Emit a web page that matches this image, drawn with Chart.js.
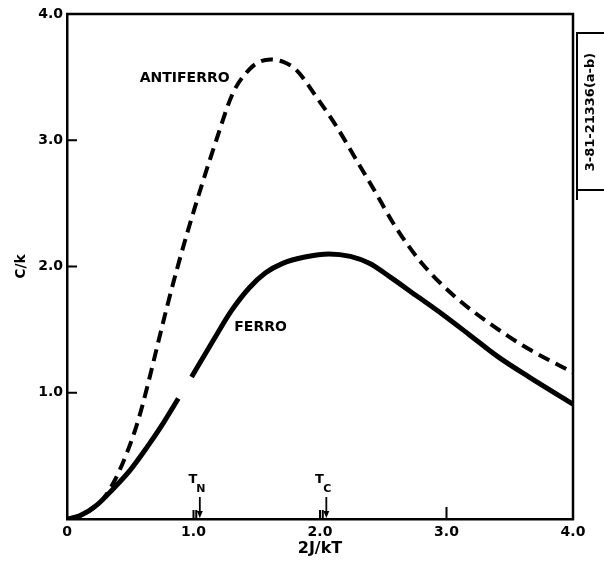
<!DOCTYPE html>
<html>
<head>
<meta charset="utf-8">
<script src="https://cdn.jsdelivr.net/npm/chart.js@4/dist/chart.umd.min.js"></script>
<style>
  html, body { margin:0; padding:0; background:#fff; }
  #wrap { width:604px; height:562px; }
</style>
</head>
<body>
<div id="wrap"><canvas id="heatChart" width="604" height="562"></canvas></div>
<script>
// ── Data (x = 2J/kT, y = C/k) ─────────────────────────────────
const antiX = [0, 0.10, 0.26, 0.366, 0.472, 0.564, 0.643, 0.709, 0.788, 0.867, 0.946, 1.07, 1.18, 1.31, 1.44, 1.53, 1.61, 1.71, 1.81, 1.97, 2.13, 2.29, 2.42, 2.60, 2.81, 3.08, 3.34, 3.61, 4.0];
const antiY = [0, 0.025, 0.13, 0.285, 0.52, 0.785, 1.08, 1.35, 1.67, 1.97, 2.25, 2.66, 3.00, 3.37, 3.56, 3.625, 3.64, 3.62, 3.56, 3.345, 3.11, 2.84, 2.62, 2.31, 2.02, 1.75, 1.55, 1.37, 1.16];

// null = the break drawn in the solid curve near 2J/kT ≈ 0.93
const ferroX = [0, 0.10, 0.235, 0.366, 0.498, 0.63, 0.761, 0.88, 0.93, 0.985, 1.183, 1.30, 1.44, 1.57, 1.705, 1.88, 2.07, 2.24, 2.39, 2.55, 2.76, 2.97, 3.18, 3.40, 3.66, 4.0];
const ferroY = [0, 0.025, 0.11, 0.24, 0.385, 0.565, 0.76, 0.955, null, 1.125, 1.46, 1.65, 1.83, 1.95, 2.025, 2.075, 2.10, 2.08, 2.025, 1.92, 1.77, 1.62, 1.46, 1.29, 1.12, 0.91];

const xTickLabels = ['0', '1.0', '2.0', '3.0', '4.0'];
const yTickLabels = ['', '1.0', '2.0', '3.0', '4.0'];

// transition markers on the x axis
const markerX   = [1.05, 2.05];
const markerSub = ['N', 'C'];

const toPts = (xs, ys) => xs.map((x, i) => ({ x, y: ys[i] }));

Chart.defaults.font.family = "'DejaVu Sans', sans-serif";
Chart.defaults.font.weight = 'bold';
Chart.defaults.color = '#000';

// ── Frame, inner ticks and notes ──────────────────────────────
const notesPlugin = {
  id: 'notes',
  afterDraw(chart) {
    const { ctx, chartArea: a, scales: { x, y } } = chart;
    ctx.save();
    ctx.strokeStyle = '#000';
    ctx.fillStyle = '#000';
    ctx.lineCap = 'butt';

    // top + right frame
    ctx.lineWidth = 2.5;
    ctx.beginPath();
    ctx.moveTo(a.left - 1, a.top);
    ctx.lineTo(a.right, a.top);
    ctx.lineTo(a.right, a.bottom + 1);
    ctx.stroke();

    // inward ticks
    ctx.lineWidth = 2;
    ctx.beginPath();
    [1, 2, 3].forEach(v => {
      const py = y.getPixelForValue(v);
      ctx.moveTo(a.left, py); ctx.lineTo(a.left + 10, py);
    });
    const p3 = x.getPixelForValue(3);
    ctx.moveTo(p3, a.bottom); ctx.lineTo(p3, a.bottom - 12);
    [1, 2].forEach(v => {
      [v, v + 0.022].forEach(w => {
        const px = x.getPixelForValue(w);
        ctx.moveTo(px, a.bottom); ctx.lineTo(px, a.bottom - 9);
      });
    });
    ctx.stroke();

    // T_N / T_C arrows
    markerX.forEach((v, i) => {
      const px = x.getPixelForValue(v);
      ctx.lineWidth = 1.8;
      ctx.beginPath();
      ctx.moveTo(px, a.bottom - 22); ctx.lineTo(px, a.bottom - 4);
      ctx.stroke();
      ctx.beginPath();
      ctx.moveTo(px - 3, a.bottom - 8); ctx.lineTo(px + 3, a.bottom - 8); ctx.lineTo(px, a.bottom - 1);
      ctx.closePath(); ctx.fill();
      ctx.textAlign = 'center'; ctx.textBaseline = 'middle';
      ctx.font = "bold 13px 'DejaVu Sans'";
      ctx.fillText('T', px - 7, a.bottom - 39);
      ctx.font = "bold 11px 'DejaVu Sans'";
      ctx.fillText(markerSub[i], px + 1, a.bottom - 30);
    });

    // curve labels
    ctx.font = "bold 14px 'DejaVu Sans'";
    ctx.textAlign = 'center'; ctx.textBaseline = 'middle';
    ctx.fillText('ANTIFERRO', x.getPixelForValue(0.93), y.getPixelForValue(3.49));
    ctx.fillText('FERRO', x.getPixelForValue(1.53), y.getPixelForValue(1.52));

    // figure number box on the right margin
    const bx = a.right + 4;
    ctx.lineWidth = 2;
    ctx.strokeRect(bx, 33, 40, 157);
    ctx.beginPath();
    ctx.moveTo(bx, 190); ctx.lineTo(bx, 200);
    ctx.stroke();
    ctx.translate(bx + 14, 112);
    ctx.rotate(-Math.PI / 2);
    ctx.font = "bold 13px 'DejaVu Sans'";
    ctx.fillText('3-81-21336(a-b)', 0, 0);
    ctx.restore();
  }
};

new Chart(document.getElementById('heatChart'), {
  type: 'line',
  data: {
    datasets: [
      { label: 'ANTIFERRO', data: toPts(antiX, antiY), borderColor: '#000', borderWidth: 4,
        borderDash: [12, 7], pointRadius: 0, cubicInterpolationMode: 'monotone', spanGaps: false },
      { label: 'FERRO', data: toPts(ferroX, ferroY), borderColor: '#000', borderWidth: 5,
        pointRadius: 0, cubicInterpolationMode: 'monotone', spanGaps: false }
    ]
  },
  options: {
    responsive: false, animation: false,
    layout: { padding: { top: 14, right: 31, left: 0, bottom: 0 } },
    plugins: { legend: { display: false }, tooltip: { enabled: false } },
    scales: {
      x: {
        type: 'linear', min: 0, max: 4,
        afterFit: s => { s.height = 43; },
        grid: { drawOnChartArea: false, drawTicks: false },
        border: { color: '#000', width: 2.5 },
        ticks: { stepSize: 1, padding: 5, font: { size: 14, weight: 'bold' },
                 callback: (v, i) => xTickLabels[i] },
        title: { display: true, text: '2J/kT', font: { size: 16, weight: 'bold' }, padding: { top: 0 } }
      },
      y: {
        type: 'linear', min: 0, max: 4,
        afterFit: s => { s.width = 67; },
        grid: { drawOnChartArea: false, drawTicks: false },
        border: { color: '#000', width: 2.5 },
        ticks: { stepSize: 1, padding: 4, font: { size: 14, weight: 'bold' },
                 callback: (v, i) => yTickLabels[i] },
        title: { display: true, text: 'C/k', font: { size: 14, weight: 'bold' }, padding: { top: 13 } }
      }
    }
  },
  plugins: [notesPlugin]
});
</script>
</body>
</html>
